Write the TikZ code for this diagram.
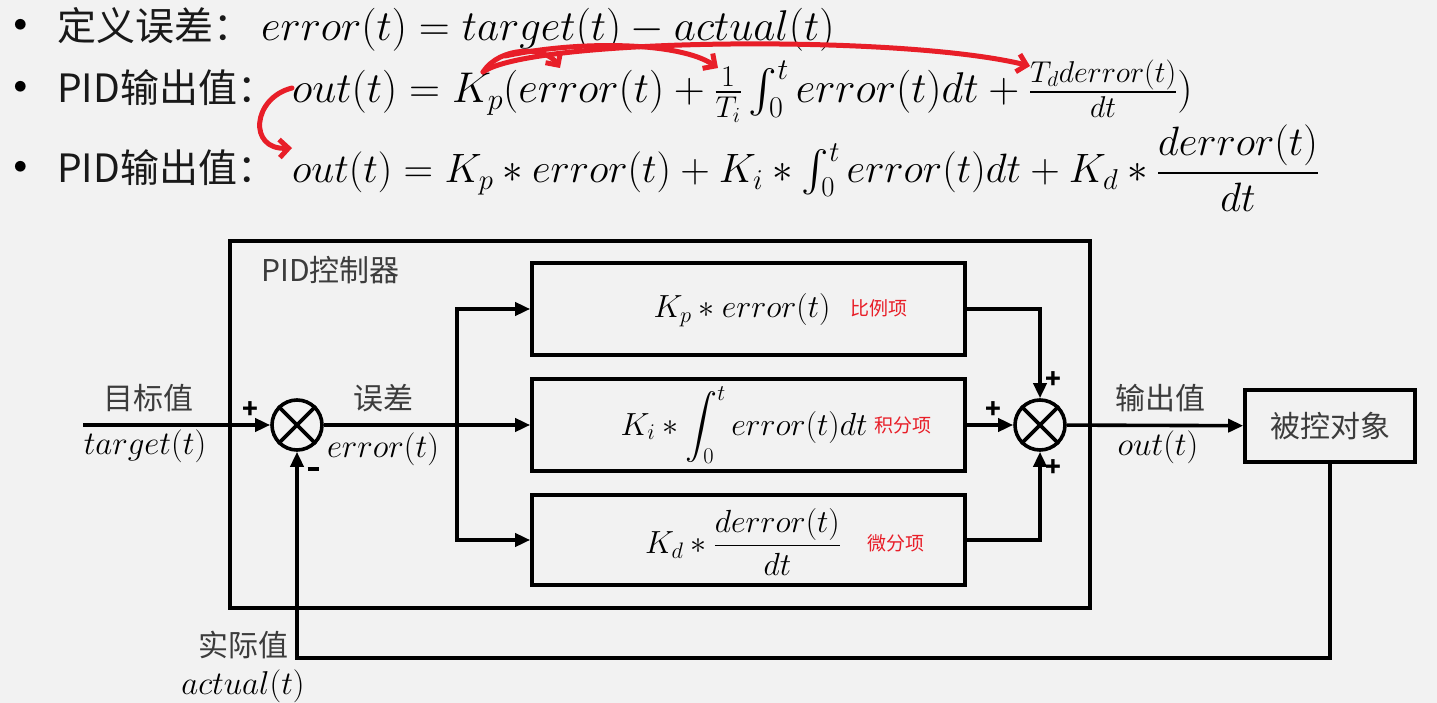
\RequirePackage{fix-cm}
\documentclass[tikz,border=0pt]{standalone}
\usepackage{amsmath,amssymb}
\usepackage{fontspec}
\usepackage{tikz}
\usetikzlibrary{arrows.meta}
\usepackage{xcolor}
\newfontfamily\cjk{Noto Sans CJK SC}
\definecolor{slidegray}{RGB}{242,242,242}
\definecolor{penred}{RGB}{232,30,40}
\definecolor{inkgray}{RGB}{60,60,60}
\newcommand{\pxsize}[1]{\fontsize{#1}{#1}\selectfont}

\begin{document}
\begin{tikzpicture}[x=1pt, y=-1pt, >={Triangle[length=15pt, width=13pt]},
    sig/.style={line width=3.6pt},
    block/.style={draw, line width=3.6pt, minimum width=433pt, minimum height=92pt, inner sep=0pt},
    sumnode/.style={draw, circle, line width=3.6pt, minimum size=50pt, inner sep=0pt},
    cjklbl/.style={font=\cjk\pxsize{30}, text=inkgray},
    toplbl/.style={anchor=base west, inner sep=0pt, font=\cjk\pxsize{39}, text=black!90},
    topeq/.style={anchor=base west, inner sep=0pt, font=\pxsize{43}},
    mathlbl/.style={font=\pxsize{33}},
    boxmath/.style={font=\pxsize{32}},
    sign/.style={font=\cjk\bfseries\pxsize{26}},
    termnote/.style={font=\cjk\pxsize{19}, text=penred},
    pen/.style={draw=penred, line width=5pt, line cap=round, line join=round, -{Straight Barb[length=9pt, width=18pt]}}]
      \useasboundingbox (0,0) rectangle (1437,703);
      \fill[slidegray] (0,0) rectangle (1437,703);

      \foreach \y/\n in {28/b1, 90/b2, 170/b3} {
        \node[font=\pxsize{48}] (\n) at (21,\y) {\textbullet};
      }
      \node[toplbl] (def1) at (57,41) {定义误差：};
      \node[topeq] (eq1) at (261,41) {$error(t) = target(t) - actual(t)$};
      \node[toplbl] (def2) at (57,103) {PID输出值：};
      \node[topeq] (eq2) at (292,103) {$out(t) = K_p(error(t) + \frac{1}{T_i}\int_0^t error(t)dt + \frac{T_d derror(t)}{dt})$};
      \node[toplbl] (def3) at (57,183) {PID输出值：};
      \node[topeq, font=\pxsize{41}] (eq3) at (292,183) {$out(t) = K_p * error(t) + K_i * \int_0^t error(t)dt + K_d * \dfrac{derror(t)}{dt}$};

      \draw[pen] (483,72) .. controls (500,46) and (545,46) .. (560,68);
      \draw[pen] (505,56) .. controls (580,40) and (680,42) .. (718,68);
      \draw[pen] (483,72) .. controls (530,38) and (900,34) .. (1030,66);
      \draw[pen] (292,88) .. controls (252,98) and (248,150) .. (292,148);

      \node[draw, line width=3.6pt, minimum width=860pt, minimum height=367pt] (pid) at (660,424.5) {};
      \node[cjklbl, anchor=west] (pidzh) at (258,270) {PID控制器};
      \node[block] (pterm) at (748.5,309) {};
      \node[block] (iterm) at (748.5,425) {};
      \node[block, minimum height=90pt] (dterm) at (748.5,540) {};
      \node[boxmath] (ptxt) at (742,310) {$K_p * error(t)$};
      \node[termnote] (pnote) at (879,308) {比例项};
      \node[boxmath] (itxt) at (744,425) {$K_i * \displaystyle\int_0^t error(t)dt$};
      \node[termnote] (inote) at (903,425) {积分项};
      \node[boxmath] (dtxt) at (743,542) {$K_d * \dfrac{derror(t)}{dt}$};
      \node[termnote] (dnote) at (896,543) {微分项};

      \node[sumnode] (s1) at (297,425) {};
      \node[sumnode] (s2) at (1040,425) {};
      \foreach \s in {s1, s2} {
        \draw[sig] (\s.45) -- (\s.225) (\s.135) -- (\s.315);
      }
      \node[draw, line width=3.6pt, minimum width=170pt, minimum height=72pt, cjklbl] (plant) at (1330,426) {被控对象};

      \coordinate (in) at (83,425);
      \coordinate (split) at (457,425);
      \coordinate (fb) at (297,658);
      \draw[sig, ->] (in) -- (s1);
      \draw[sig] (s1) -- (split);
      \draw[sig, ->] (split) -- (iterm);
      \draw[sig, ->] (split) |- (pterm);
      \draw[sig, ->] (split) |- (dterm);
      \draw[sig, ->] (pterm) -| (s2);
      \draw[sig, ->] (iterm) -- (s2);
      \draw[sig, ->] (dterm) -| (s2);
      \draw[sig, ->] (s2) -- (plant);
      \draw[sig, ->] (plant) |- (fb) -- (s1);

      \node[sign] (p1) at (250,410) {+};
      \node[inner sep=0pt] (m1) at (313,469) {\rule{11pt}{3.5pt}};
      \node[sign] (p2) at (993,410) {+};
      \node[sign] (p3) at (1053,380) {+};
      \node[sign] (p4) at (1053,468) {+};

      \node[cjklbl] (tgtzh) at (148,398) {目标值};
      \node[mathlbl] (tgt) at (145,446) {$target(t)$};
      \node[cjklbl] (errzh) at (383,398) {误差};
      \node[mathlbl] (err) at (383,449) {$error(t)$};
      \node[cjklbl] (outzh) at (1160,398) {输出值};
      \node[mathlbl] (outl) at (1158,447) {$out(t)$};
      \node[cjklbl] (actzh) at (243,645) {实际值};
      \node[mathlbl] (act) at (243,686) {$actual(t)$};
    \end{tikzpicture}
\end{document}
